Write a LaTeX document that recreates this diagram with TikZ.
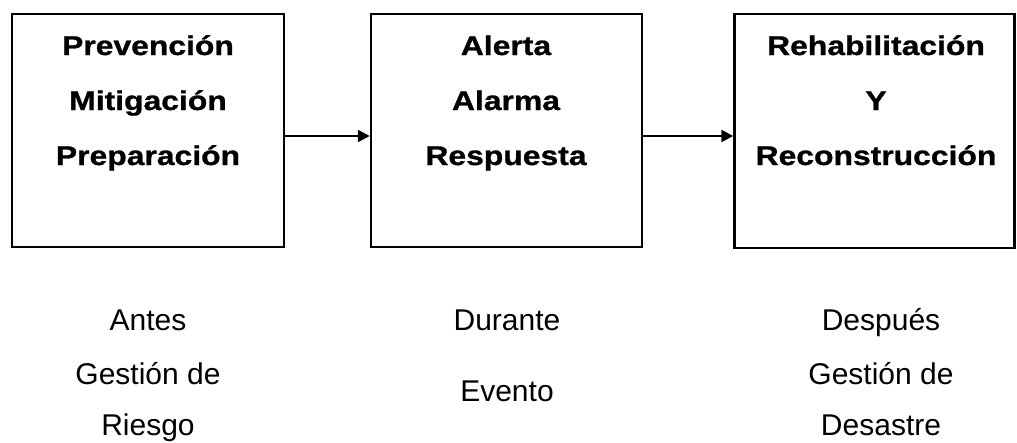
\documentclass[tikz,border=0pt]{standalone}
\usepackage{fontspec}
\usetikzlibrary{arrows.meta}
\newfontfamily\boxfont[FakeStretch=1.18,FakeBold=1]{Liberation Sans}
\newfontfamily\lowfont{Liberation Sans}
\begin{document}
\begin{tikzpicture}[x=1pt,y=-1pt,
  stage/.style={draw=black, line width=2.5pt, rectangle},
  head/.style={anchor=base, inner sep=0pt, font=\boxfont\bfseries\fontsize{27}{27}\selectfont},
  low/.style={anchor=base, inner sep=0pt, font=\lowfont\fontsize{30}{30}\selectfont},
  arr/.style={line width=2.5pt, -{Triangle[length=12pt,width=12pt]}}]
\useasboundingbox (0,0) rectangle (1017,442);
% boxes
\node[stage, minimum width=272pt, minimum height=233pt] (b1) at (148,130.5) {};
\node[stage, minimum width=271pt, minimum height=233pt] (b2) at (506.5,130.5) {};
\node[stage, minimum width=280pt, minimum height=234pt] (b3) at (874.5,131) {};
% box texts
\node[head] (t11) at (148,55) {Prevención};
\node[head] (t12) at (148,110) {Mitigación};
\node[head] (t13) at (148,165) {Preparación};
\node[head] (t21) at (506,55) {Alerta};
\node[head] (t22) at (506,110) {Alarma};
\node[head] (t23) at (506,165) {Respuesta};
\node[head] (t31) at (876,55) {Rehabilitación};
\node[head] (t32) at (876,110) {Y};
\node[head] (t33) at (876,165) {Reconstrucción};
% arrows
\draw[arr] (b1.east |- 0,136) -- (b2.west |- 0,136);
\draw[arr] (b2.east |- 0,136) -- (b3.west |- 0,136);
% lower texts
\node[low] (l11) at (148,330) {Antes};
\node[low] (l12) at (148,384) {Gestión de};
\node[low] (l13) at (148,435) {Riesgo};
\node[low] (l21) at (507,330) {Durante};
\node[low] (l22) at (507,401) {Evento};
\node[low] (l31) at (881,330) {Después};
\node[low] (l32) at (881,384) {Gestión de};
\node[low] (l33) at (881,435) {Desastre};
\end{tikzpicture}
\end{document}
